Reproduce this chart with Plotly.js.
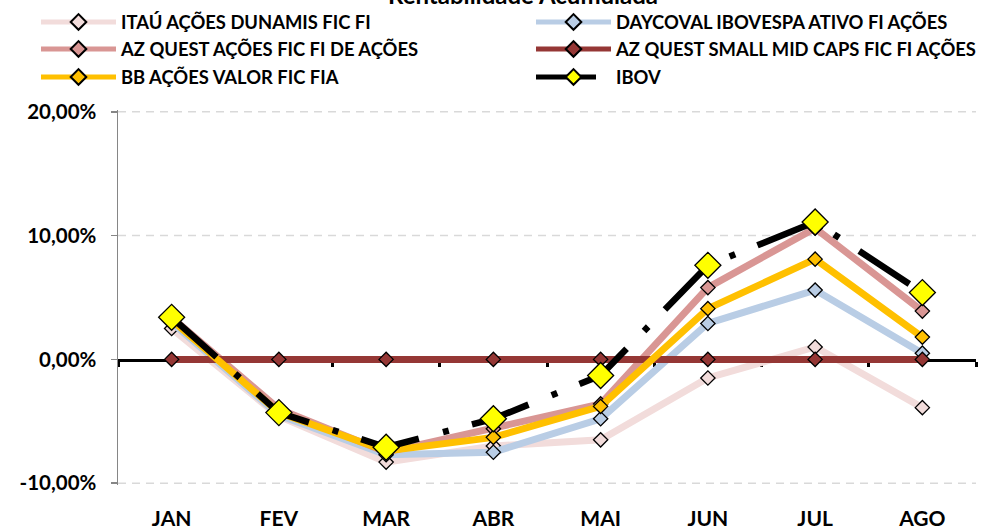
<!DOCTYPE html>
<html><head><meta charset="utf-8">
<script src="https://cdn.plot.ly/plotly-3.0.1.min.js"></script>
<style>html,body{margin:0;padding:0;background:#fff}#chart{width:984px;height:530px}</style>
</head><body><div id="chart"></div>
<script>
const months = ['JAN','FEV','MAR','ABR','MAI','JUN','JUL','AGO'];
const itau = [2.5,-4.6,-8.3,-7.0,-6.5,-1.5,1.0,-3.9];
const daycoval = [3.0,-4.5,-7.7,-7.5,-4.8,2.9,5.6,0.5];
const azQuest = [3.4,-4.0,-7.5,-5.6,-3.6,5.8,10.6,3.9];
const azSmallMid = [0,0,0,0,0,0,0,0];
const bbValor = [3.2,-4.3,-7.4,-6.3,-3.8,4.1,8.1,1.8];
const ibov = [3.4,-4.3,-7.1,-4.8,-1.3,7.6,11.1,5.4];
const seriesNames = ['ITAÚ AÇÕES DUNAMIS FIC FI','DAYCOVAL IBOVESPA ATIVO FI AÇÕES','AZ QUEST AÇÕES FIC FI DE AÇÕES','AZ QUEST SMALL MID CAPS FIC FI AÇÕES','BB AÇÕES VALOR FIC FIA','IBOV'];
const yTicks = [-10,0,10,20];
const yTickLabels = ['-10,00%','0,00%','10,00%','20,00%'];
const chartTitle = 'Rentabilidade Acumulada';

const FONT = 'Lato, "Open Sans", sans-serif';
const lineColors = ['#F2DCDB','#B9CDE5','#D99694','#953735','#FFC000','#000000'];
const markerColors = ['#F2DCDB','#B9CDE5','#D99694','#953735','#FFC000','#FFFF00'];
const legendIds = ['legend','legend2','legend3','legend4','legend5','legend6'];
const vals = [itau,daycoval,azQuest,azSmallMid,bbValor,ibov];

const traces = vals.map((v,i)=>({
  type:'scatter', mode:'lines+markers', x:months, y:v, name:seriesNames[i],
  legend:legendIds[i], hoverinfo:'skip',
  line:{color:lineColors[i], width: i===5?6.5:7, dash: i===5?'60px,25px,6px,24px':'solid'},
  marker:{symbol:'diamond', size: i===5?20:11, color:markerColors[i], line:{color:'#000', width:1.3}}
}));
// carrier for the bottom month labels
traces.push({type:'scatter', mode:'markers', x:months, y:azSmallMid, xaxis:'x2', yaxis:'y',
  marker:{opacity:0}, showlegend:false, hoverinfo:'skip'});

// dashed horizontal gridlines at the non-zero y ticks
const gridShapes = yTicks.filter(t=>t!==0).map(t=>({
  type:'line', layer:'below', xref:'paper', x0:0, x1:1, yref:'y', y0:t, y1:t,
  line:{color:'#D9D9D9', width:1.5, dash:'8px,6px'}
}));

function leg(xpx, yc){
  return {orientation:'h', xref:'container', yref:'container', x:xpx/984, y:1-yc/530, yanchor:'middle', xanchor:'left',
    itemwidth:75, itemsizing:'constant', bgcolor:'rgba(0,0,0,0)',
    font:{family:FONT, size:18.4, weight:'bold', color:'#000'}};
}

const layout = {
  width:984, height:530,
  margin:{l:118, r:8, t:110, b:45},
  paper_bgcolor:'#fff', plot_bgcolor:'#fff',
  title:{text:chartTitle, xref:'container', yref:'container', x:523/984, y:1-4/530, xanchor:'center', yanchor:'bottom',
    font:{family:FONT, size:24, weight:'bold', color:'#000'}},
  xaxis:{type:'category', categoryorder:'array', categoryarray:months, range:[-0.5,7.5],
    anchor:'free', position:1/3, showline:true, linecolor:'#000', linewidth:3,
    ticks:'outside', tickson:'boundaries', ticklen:5, tickwidth:3, tickcolor:'#000',
    showticklabels:false, showgrid:false, zeroline:false, layer:'below traces', fixedrange:true},
  xaxis2:{overlaying:'x', anchor:'y', side:'bottom', type:'category', categoryorder:'array', categoryarray:months, range:[-0.5,7.5],
    showline:false, showgrid:false, zeroline:false, ticks:'', ticklabelstandoff:19,
    tickfont:{family:FONT, size:21, weight:'bold', color:'#000'}},
  yaxis:{range:[-10.15,20.15], tickvals:yTicks, ticktext:yTickLabels,
    showline:true, linecolor:'#868686', linewidth:1.5, ticks:'outside', ticklen:6, tickcolor:'#868686', tickwidth:1.5,
    showgrid:false, zeroline:false, ticklabelstandoff:10,
    tickfont:{family:FONT, size:20.5, weight:'bold', color:'#000'}},
  shapes:gridShapes,
  legend:leg(36,22), legend2:leg(531,22), legend3:leg(36,49), legend4:leg(531,49), legend5:leg(36,77), legend6:leg(531,77),
  showlegend:true
};
Plotly.newPlot('chart', traces, layout, {staticPlot:true, displayModeBar:false});
</script></body></html>
